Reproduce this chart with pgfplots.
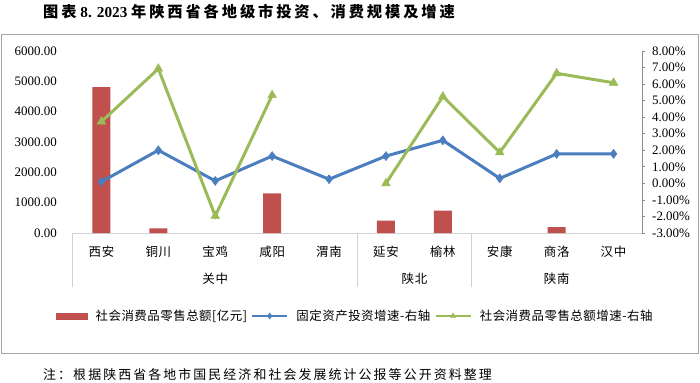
\documentclass[border=0pt]{standalone}
\usepackage{fontspec}
\setmainfont{Liberation Serif}
\newfontfamily\cjk{Noto Sans CJK SC}
\usepackage{pgfplots}
\pgfplotsset{compat=1.18}
\definecolor{barred}{RGB}{192,80,77}
\definecolor{lblue}{RGB}{74,126,190}
\definecolor{lgreen}{RGB}{155,187,89}
\begin{document}
\begin{tikzpicture}
\useasboundingbox (-73bp,-150bp) rectangle (627bp,233bp);
\draw[black!35, line width=1bp] (-71bp,-120bp) rectangle (625bp,198bp);
\node[anchor=west, inner sep=0pt] at (-30bp,221bp) {\fontsize{15.3}{15}\selectfont\bfseries{\cjk\addfontfeatures{LetterSpace=19}图表} 8. 2023 {\cjk\addfontfeatures{LetterSpace=19}年陕西省各地级市投资、消费规模及增速}};
\node[anchor=west, inner sep=0pt] at (-30bp,-142bp) {\cjk\addfontfeatures{LetterSpace=16}\fontsize{13}{13}\selectfont 注：根据陕西省各地市国民经济和社会发展统计公报等公开资料整理};

\begin{axis}[
  at={(0,0)}, anchor=south west,
  scale only axis, width=569bp, height=182bp,
  xmin=-0.5, xmax=9.5, ymin=0, ymax=6000,
  axis x line*=bottom, axis y line*=left,
  x axis line style={draw=black!18, line width=1bp},
  y axis line style={draw=none},
  xtick={0,...,9},
  xticklabels={西安,铜川,宝鸡,咸阳,渭南,延安,榆林,安康,商洛,汉中},
  xtick style={draw=none}, ytick style={draw=none},
  ytick={0,1000,...,6000},
  xticklabel style={font=\cjk\addfontfeatures{LetterSpace=6}\fontsize{12.5}{13}\selectfont, anchor=center, yshift=-19bp},
  yticklabel style={font=\fontsize{13}{13}\selectfont, anchor=east, inner sep=0pt, xshift=-16bp},
  /pgf/number format/fixed, /pgf/number format/fixed zerofill,
  /pgf/number format/precision=2, /pgf/number format/1000 sep={},
  /pgf/number format/assume math mode=true,
  clip=false,
]
\addplot[ybar, bar width=18bp, fill=barred, draw=none] coordinates {(0,4810) (1,150) (3,1305) (5,410) (6,740) (8,190)};
\draw[black!18, line width=1bp] (axis cs:-0.5,0) -- ([yshift=-54bp]axis cs:-0.5,0);
\draw[black!18, line width=1bp] (axis cs:4.5,0) -- ([yshift=-54bp]axis cs:4.5,0);
\draw[black!18, line width=1bp] (axis cs:6.5,0) -- ([yshift=-54bp]axis cs:6.5,0);
\node[font=\cjk\addfontfeatures{LetterSpace=6}\fontsize{12.5}{13}\selectfont, yshift=-46bp] at (axis cs:2,0) {关中};
\node[font=\cjk\addfontfeatures{LetterSpace=6}\fontsize{12.5}{13}\selectfont, yshift=-46bp] at (axis cs:5.5,0) {陕北};
\node[font=\cjk\addfontfeatures{LetterSpace=6}\fontsize{12.5}{13}\selectfont, yshift=-46bp] at (axis cs:8,0) {陕南};
\end{axis}

\begin{axis}[
  at={(0,0)}, anchor=south west,
  scale only axis, width=569bp, height=182bp,
  xmin=-0.5, xmax=9.5, ymin=-3, ymax=8,
  axis x line=none, axis y line*=right,
  y axis line style={draw=black!45, line width=0.8bp},
  ytick={-3,...,8}, ytick style={draw=black!45, line width=0.8bp},
  tick align=outside, major tick length=3bp,
  yticklabel={\pgfmathprintnumber{\tick}\%},
  yticklabel style={font=\fontsize{13}{13}\selectfont, anchor=west, inner sep=0pt, xshift=7bp},
  /pgf/number format/fixed, /pgf/number format/fixed zerofill,
  /pgf/number format/precision=2,
  /pgf/number format/assume math mode=true,
  clip=false,
  unbounded coords=jump,
  legend columns=3,
  legend image code/.code={\draw[mark repeat=2,mark phase=2,#1,line width=2.5bp,mark size=3bp] plot coordinates {(0bp,0bp) (17.5bp,0bp) (35bp,0bp)};},
  legend style={at={(-0.0351,-0.456)}, anchor=west, draw=none, fill=none,
    font=\cjk\addfontfeatures{LetterSpace=4}\fontsize{12.5}{13}\selectfont,
    nodes={inner xsep=0pt, inner ysep=1pt},
    /tikz/every even column/.append style={column sep=4bp},
    /tikz/every odd column/.append style={column sep=8bp}},
]
\addlegendimage{legend image code/.code={\fill[barred] (0bp,-3bp) rectangle (31bp,3bp);}}
\addlegendentry{社会消费品零售总额[亿元]}
\addplot[lblue, line width=3bp, mark=diamond*, mark size=4.5bp, mark options={solid, line width=0.5bp}]
  coordinates {(0,0.10) (1,2.00) (2,0.15) (3,1.65) (4,0.25) (5,1.65) (6,2.60) (7,0.30) (8,1.78) (9,1.78)};
\addlegendentry{固定资产投资增速-右轴}
\addplot[lgreen, line width=3bp, mark=triangle*, mark size=5bp, mark options={solid, line width=0.5bp}]
  coordinates {(0,3.73) (1,6.93) (2,-1.97) (3,5.33) (4,nan) (5,0.00) (6,5.25) (7,1.87) (8,6.65) (9,6.08)};
\addlegendentry{社会消费品零售总额增速-右轴}
\end{axis}
\end{tikzpicture}
\end{document}
